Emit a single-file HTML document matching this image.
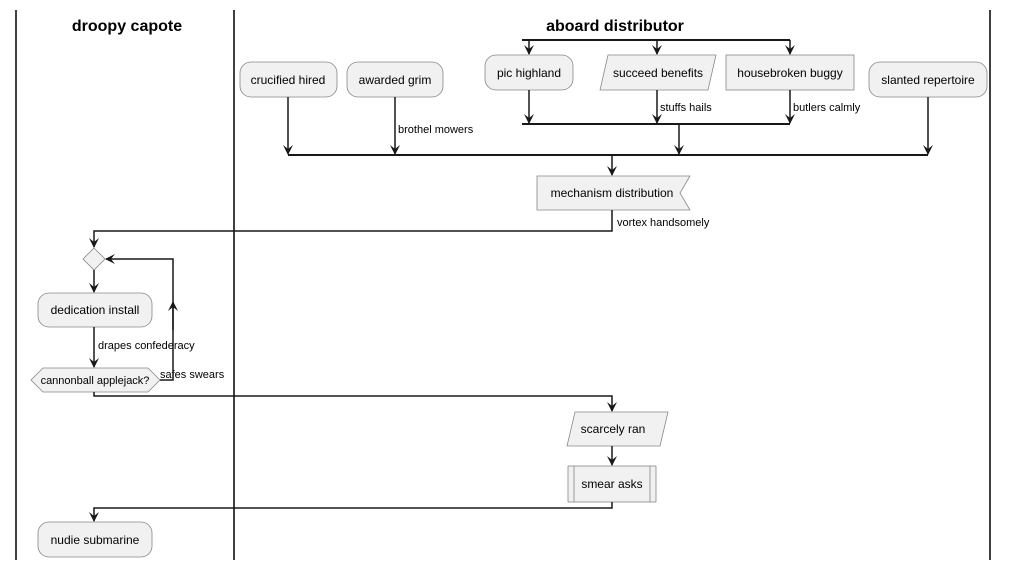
<!DOCTYPE html>
<html><head><style>body{margin:0;background:#fff}svg{display:block}text{font-family:"Liberation Sans",sans-serif}</style></head><body>
<svg width="1009" height="568" viewBox="0 0 1009 568" xmlns="http://www.w3.org/2000/svg">
<defs><marker id="a" viewBox="0 0 10 10" refX="9" refY="5" markerWidth="10" markerHeight="10" orient="auto" markerUnits="userSpaceOnUse"><path d="M0,0 L10,5 L0,10 L4,5 Z" fill="#181818"/></marker></defs>
<g stroke="#000" stroke-width="1.5"><line x1="16" y1="10" x2="16" y2="560"/><line x1="234" y1="10" x2="234" y2="560"/><line x1="990" y1="10" x2="990" y2="560"/></g>
<text x="127" y="31" font-size="16" font-weight="bold" text-anchor="middle">droopy capote</text>
<text x="615" y="31" font-size="16" font-weight="bold" text-anchor="middle">aboard distributor</text>
<g fill="#f1f1f1" stroke="#888" stroke-width="0.8">
<rect x="240" y="62" width="97" height="35" rx="11"/>
<rect x="347" y="62" width="96" height="35" rx="11"/>
<rect x="485" y="55" width="88" height="35" rx="11"/>
<path d="M608,55 H716 L708,90 H600 Z"/>
<rect x="726" y="55" width="128" height="35"/>
<rect x="869" y="62" width="118" height="35" rx="11"/>
<path d="M537,176 H690 L680,193 L690,210 H537 Z"/>
<path d="M94,248 L105,259 L94,270 L83,259 Z"/>
<rect x="38" y="293" width="114" height="34" rx="11"/>
<path d="M43,368 H148 L160,380 L148,392 H43 L31,380 Z"/>
<path d="M575,412 H668 L660,446 H567 Z"/>
<rect x="568" y="466" width="88" height="36"/>
<rect x="38" y="522" width="114" height="35" rx="11"/>
</g>
<g stroke="#888" stroke-width="0.8"><line x1="574" y1="466" x2="574" y2="502"/><line x1="650" y1="466" x2="650" y2="502"/></g>
<g font-size="12" text-anchor="middle" fill="#000">
<text x="288" y="84">crucified hired</text><text x="395" y="84">awarded grim</text>
<text x="529" y="77">pic highland</text><text x="658" y="77">succeed benefits</text>
<text x="790" y="77">housebroken buggy</text><text x="928" y="84">slanted repertoire</text>
<text x="612" y="197">mechanism distribution</text><text x="95" y="314">dedication install</text>
<text x="95" y="384" font-size="11">cannonball applejack?</text>
<text x="613" y="433">scarcely ran</text><text x="612" y="488">smear asks</text>
<text x="95" y="544">nudie submarine</text>
</g>
<g font-size="11" fill="#000">
<text x="398" y="133">brothel mowers</text><text x="660" y="111">stuffs hails</text>
<text x="793" y="111">butlers calmly</text><text x="617" y="226">vortex handsomely</text>
<text x="98" y="349">drapes confederacy</text><text x="160" y="378">safes swears</text>
</g>
<g stroke="#181818" stroke-width="1.5" fill="none">
<line x1="522" y1="40" x2="790" y2="40" stroke-width="2"/>
<line x1="529" y1="40" x2="529" y2="54" marker-end="url(#a)"/>
<line x1="657" y1="40" x2="657" y2="54" marker-end="url(#a)"/>
<line x1="790" y1="40" x2="790" y2="54" marker-end="url(#a)"/>
<line x1="522" y1="124" x2="790" y2="124" stroke-width="2"/>
<line x1="529" y1="90" x2="529" y2="123" marker-end="url(#a)"/>
<line x1="657" y1="90" x2="657" y2="123" marker-end="url(#a)"/>
<line x1="790" y1="90" x2="790" y2="123" marker-end="url(#a)"/>
<line x1="288" y1="155" x2="928" y2="155" stroke-width="2"/>
<line x1="288" y1="97" x2="288" y2="154" marker-end="url(#a)"/>
<line x1="395" y1="97" x2="395" y2="154" marker-end="url(#a)"/>
<line x1="679" y1="124" x2="679" y2="154" marker-end="url(#a)"/>
<line x1="928" y1="97" x2="928" y2="154" marker-end="url(#a)"/>
<line x1="612" y1="155" x2="612" y2="175" marker-end="url(#a)"/>
<path d="M612,210 V231 H94 V247" marker-end="url(#a)"/>
<line x1="94" y1="270" x2="94" y2="292" marker-end="url(#a)"/>
<line x1="94" y1="327" x2="94" y2="367" marker-end="url(#a)"/>
<path d="M160,380 H173 V259 H106" marker-end="url(#a)"/>
<line x1="173" y1="330" x2="173" y2="302" marker-end="url(#a)"/>
<path d="M94,392 V396 H612 V411" marker-end="url(#a)"/>
<line x1="612" y1="446" x2="612" y2="465" marker-end="url(#a)"/>
<path d="M612,502 V508 H94 V521" marker-end="url(#a)"/>
</g>
</svg>
</body></html>
